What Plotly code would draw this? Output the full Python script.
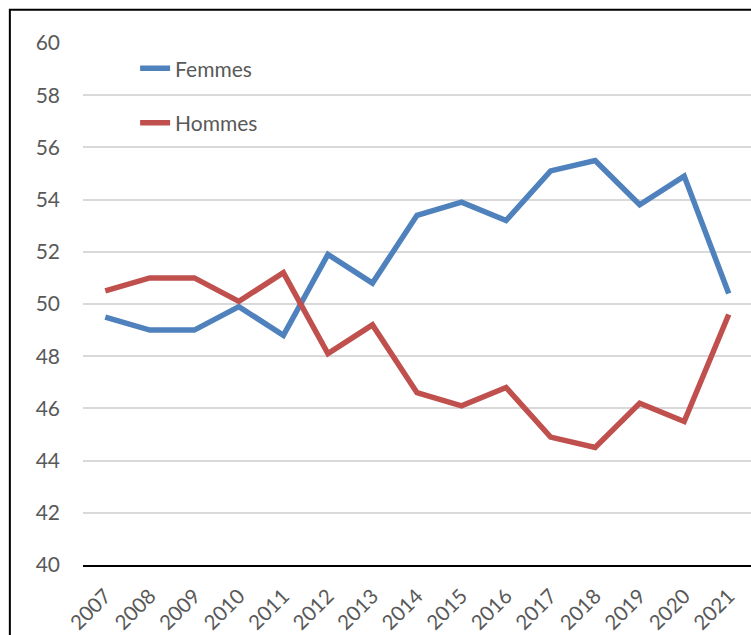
import plotly.graph_objects as go

years = [str(y) for y in range(2007, 2022)]
femmes = [49.5, 49.0, 49.0, 49.9, 48.8, 51.9, 50.8, 53.4, 53.9, 53.2, 55.1, 55.5, 53.8, 54.9, 50.4]
hommes = [50.5, 51.0, 51.0, 50.1, 51.2, 48.1, 49.2, 46.6, 46.1, 46.8, 44.9, 44.5, 46.2, 45.5, 49.6]
y_ticks = list(range(40, 61, 2))

FONT = "Lato, Carlito, Calibri, sans-serif"
GRAY = "#595959"

fig = go.Figure()
fig.add_trace(go.Scatter(x=years, y=femmes, name="Femmes", mode="lines", legendgroup="f",
                         line=dict(color="#4F81BD", width=5.5)))
fig.add_trace(go.Scatter(x=years, y=hommes, name="Hommes", mode="lines", legendgroup="h",
                         line=dict(color="#C0504D", width=5.5)))

fig.update_layout(
    width=751, height=635,
    margin=dict(l=83, r=0, t=43, b=70),
    paper_bgcolor="white", plot_bgcolor="white",
    font=dict(family=FONT, color=GRAY, size=21),
    showlegend=True,
    legend=dict(x=0.078, y=0.99, xanchor="left", yanchor="top", bgcolor="rgba(0,0,0,0)",
                font=dict(size=21, color=GRAY), traceorder="grouped", tracegroupgap=24,
                itemwidth=30),
    xaxis=dict(type="category", range=[-0.5, 14.5], tickangle=-45, showgrid=False,
               showline=True, linecolor="black", linewidth=2, ticks="",
               ticklabelstandoff=9, tickfont=dict(size=20.5, color=GRAY)),
    yaxis=dict(range=[40, 60], tickvals=y_ticks, showgrid=True, gridcolor="#D9D9D9",
               gridwidth=1.5, zeroline=False, showline=False, ticks="",
               ticklabelstandoff=22, tickfont=dict(size=21, color=GRAY)),
    shapes=[dict(type="rect", xref="paper", yref="paper", x0=-0.1095, x1=1.05, y0=-0.5, y1=1.0635,
                 line=dict(color="black", width=2), fillcolor="rgba(0,0,0,0)", layer="above")],
)

fig.write_html("out.html")
